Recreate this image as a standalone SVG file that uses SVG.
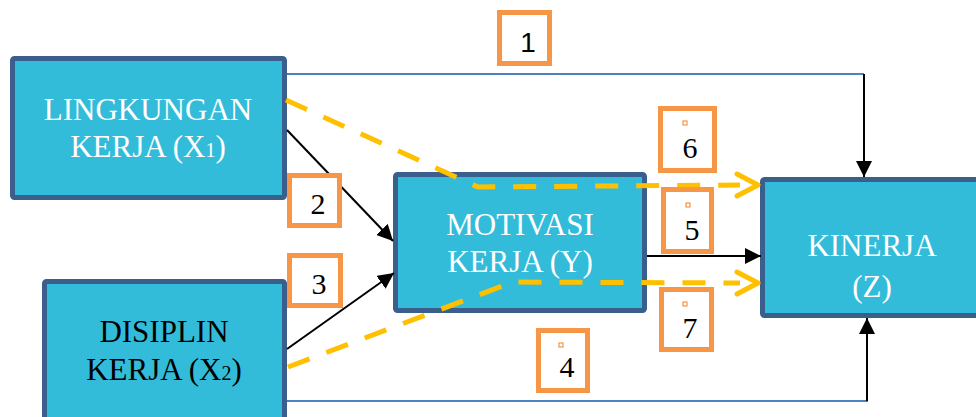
<svg xmlns="http://www.w3.org/2000/svg" width="976" height="417" viewBox="0 0 976 417">
<defs>
<style>
.node{fill:#33BCD9;stroke:#3B5F8C;stroke-width:5}
.lbl{fill:#FFFFFF;stroke:#F79646;stroke-width:5}
.tiny{fill:#FFFFFF;stroke:#F79646;stroke-width:1.2}
.wt{font-family:'Liberation Serif','Times New Roman',Times,serif;font-size:31px;fill:#FFFFFF;text-anchor:middle}
.bt{font-family:'Liberation Serif','Times New Roman',Times,serif;font-size:31px;fill:#000000;text-anchor:middle}
.num{font-family:'Liberation Serif','Times New Roman',Times,serif;font-size:30px;fill:#000000;text-anchor:middle}
.blue{fill:none;stroke:#4F81BD;stroke-width:2}
.blk{fill:none;stroke:#000000;stroke-width:2}
.dash{fill:none;stroke:#FFC000;stroke-width:5;stroke-dasharray:23 18}
.chev{fill:none;stroke:#FFC000;stroke-width:5;stroke-linecap:round;stroke-linejoin:round}
</style>
<marker id="ahb" viewBox="0 0 10 10" refX="10" refY="5" markerWidth="16" markerHeight="16" markerUnits="userSpaceOnUse" orient="auto">
<path d="M0,0 L10,5 L0,10 z" fill="#000000"/>
</marker>
</defs>
<rect width="976" height="417" fill="#FFFFFF"/>

<g id="node-lingkungan">
<rect class="node" x="12.5" y="58.5" width="272" height="139" rx="2"/>
<text class="wt" font-family="Liberation Serif, serif" x="148" y="120">LINGKUNGAN</text>
<text class="wt" font-family="Liberation Serif, serif" x="148" y="157">KERJA (X<tspan font-size="20">1</tspan>)</text>
</g>

<g id="node-disiplin">
<rect class="node" x="44.5" y="281.5" width="240" height="150" rx="2"/>
<text class="bt" font-family="Liberation Serif, serif" x="164" y="342">DISIPLIN</text>
<text class="bt" font-family="Liberation Serif, serif" x="164" y="380">KERJA (X<tspan font-size="20">2</tspan>)</text>
</g>

<g id="node-motivasi">
<rect class="node" x="395.5" y="174.5" width="249" height="136" rx="2"/>
<text class="wt" font-family="Liberation Serif, serif" x="520" y="235">MOTIVASI</text>
<text class="wt" font-family="Liberation Serif, serif" x="520" y="272">KERJA (Y)</text>
</g>

<g id="node-kinerja">
<rect class="node" x="762.5" y="179.5" width="230" height="136" rx="2"/>
<text class="wt" font-family="Liberation Serif, serif" x="872" y="256">KINERJA</text>
<text class="wt" font-family="Liberation Serif, serif" x="872" y="297">(Z)</text>
</g>

<g id="connectors">
<polyline class="blue" points="287,74 864,74"/>
<line class="blk" x1="864" y1="74" x2="864" y2="177" marker-end="url(#ahb)"/>
<polyline class="blue" points="287,401 868,401"/>
<line class="blk" x1="867" y1="401" x2="867" y2="318" marker-end="url(#ahb)"/>
<line class="blk" x1="287" y1="130" x2="393" y2="241" marker-end="url(#ahb)"/>
<line class="blk" x1="287" y1="349" x2="394" y2="273" marker-end="url(#ahb)"/>
<line class="blk" x1="647" y1="256" x2="761" y2="256" marker-end="url(#ahb)"/>
<polyline class="dash" points="286,100 478,187 740,185"/>
<polyline class="chev" points="737,174 758,185 737,196"/>
<polyline class="dash" points="288,367 513,282 740,283"/>
<polyline class="chev" points="737,272 758,283 737,294"/>
</g>

<g id="label-1">
<rect class="lbl" x="499.5" y="12.5" width="50" height="51"/>
<text x="528" y="52" font-family="Liberation Sans, Arial, sans-serif" font-size="28" text-anchor="middle" fill="#000000">1</text>
</g>
<g id="label-2">
<rect class="lbl" x="289.5" y="175.5" width="50" height="50"/>
<text class="num" font-family="Liberation Serif, serif" x="318" y="214">2</text>
</g>
<g id="label-3">
<rect class="lbl" x="289.5" y="255.5" width="51" height="50"/>
<text class="num" font-family="Liberation Serif, serif" x="319" y="294">3</text>
</g>
<g id="label-4">
<rect class="lbl" x="538.5" y="330.5" width="49" height="60"/>
<rect class="tiny" x="559" y="343" width="4" height="4"/>
<text class="num" font-family="Liberation Serif, serif" x="567" y="377">4</text>
</g>
<g id="label-6">
<rect class="lbl" x="660.5" y="108.5" width="54" height="62"/>
<rect class="tiny" x="683" y="121" width="4" height="4"/>
<text class="num" font-family="Liberation Serif, serif" x="690" y="158">6</text>
</g>
<g id="label-5">
<rect class="lbl" x="663.5" y="189.5" width="48" height="62"/>
<rect class="tiny" x="686" y="203" width="4" height="4"/>
<text class="num" font-family="Liberation Serif, serif" x="692" y="240">5</text>
</g>
<g id="label-7">
<rect class="lbl" x="661.5" y="289.5" width="50" height="60"/>
<rect class="tiny" x="683" y="302" width="4" height="4"/>
<text class="num" font-family="Liberation Serif, serif" x="690" y="338">7</text>
</g>
</svg>
